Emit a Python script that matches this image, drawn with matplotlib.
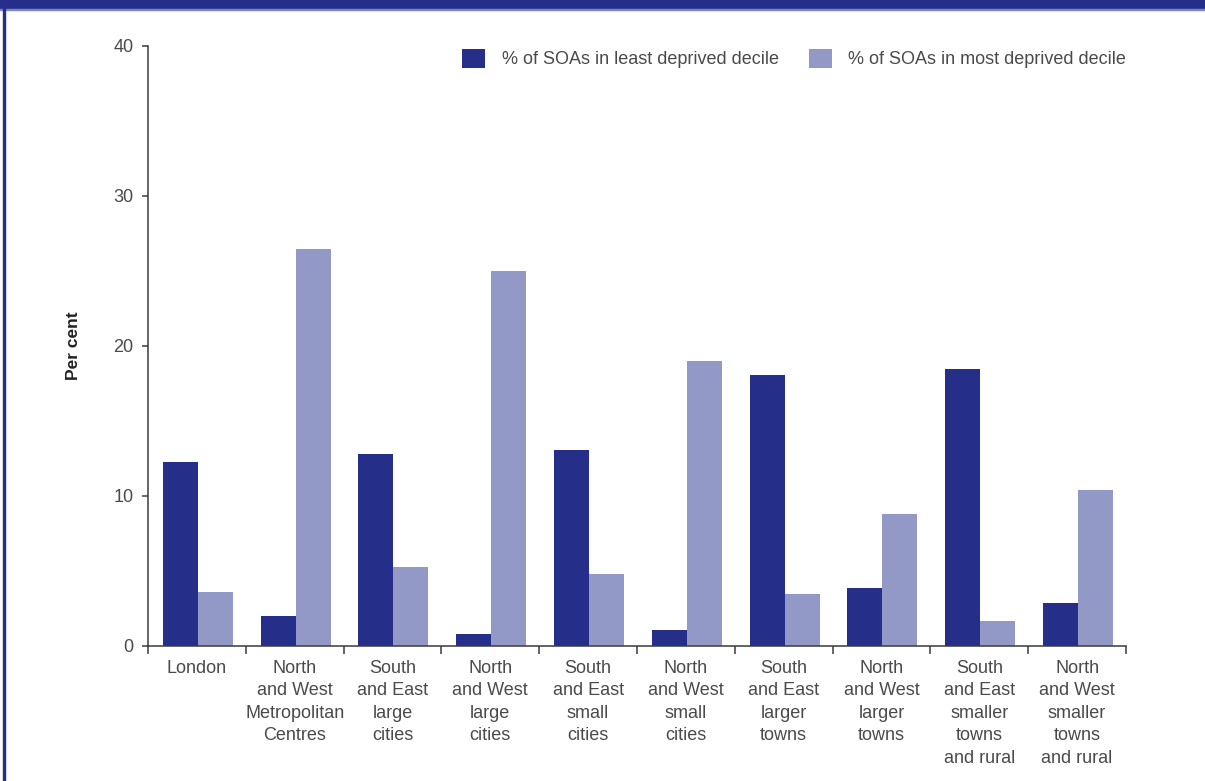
import matplotlib.pyplot as plt
import numpy as np
from matplotlib.patches import Rectangle

plt.rcParams['font.family'] = ['Liberation Sans', 'DejaVu Sans']

categories = ['London', 'North\nand West\nMetropolitan\nCentres', 'South\nand East\nlarge\ncities',
              'North\nand West\nlarge\ncities', 'South\nand East\nsmall\ncities', 'North\nand West\nsmall\ncities',
              'South\nand East\nlarger\ntowns', 'North\nand West\nlarger\ntowns',
              'South\nand East\nsmaller\ntowns\nand rural', 'North\nand West\nsmaller\ntowns\nand rural']
least_deprived = [12.3, 2.0, 12.8, 0.8, 13.1, 1.1, 18.1, 3.9, 18.5, 2.9]
most_deprived = [3.6, 26.5, 5.3, 25.0, 4.8, 19.0, 3.5, 8.8, 1.7, 10.4]
series_names = ['% of SOAs in least deprived decile', '% of SOAs in most deprived decile']

dark = '#252f8a'
light = '#9399c6'
text_col = '#4a4a4a'
axis_col = '#3a3a3a'

fig = plt.figure(figsize=(12.05, 7.81), dpi=100)
ax = fig.add_axes([148/1205, 1 - 646/781, (1126-148)/1205, 600/781])

# frame decoration
fig.patches.append(Rectangle((0, 1 - 9/781), 1, 9/781, transform=fig.transFigure, color=dark, zorder=0))
fig.patches.append(Rectangle((0, 1 - 10/781), 1, 1.5/781, transform=fig.transFigure, color='#7f86c0', zorder=0))
fig.patches.append(Rectangle((3/1205, 0), 1.5/1205, 1, transform=fig.transFigure, color=dark, zorder=0))

x = np.arange(len(categories)) + 0.5
w = 0.358
ax.bar(x - w/2 + 0.01, least_deprived, w, color=dark, label=series_names[0])
ax.bar(x + w/2 + 0.01, most_deprived, w, color=light, label=series_names[1])

ax.set_xlim(0, len(categories))
ax.set_ylim(0, 40)
ax.set_yticks([0, 10, 20, 30, 40])
ax.set_xticks(x)
ax.set_xticklabels(categories, fontsize=13, color=text_col, linespacing=1.42)
ax.set_xticks(np.arange(len(categories) + 1), minor=True)
ax.tick_params(axis='x', which='major', length=0, pad=10)
ax.tick_params(axis='x', which='minor', length=6, width=1.1, color=axis_col)
ax.tick_params(axis='y', length=4.5, width=1.1, color=axis_col, labelsize=13, labelcolor=text_col, pad=6)

for s in ['top', 'right']:
    ax.spines[s].set_visible(False)
for s in ['left', 'bottom']:
    ax.spines[s].set_color(axis_col)
    ax.spines[s].set_linewidth(1.1)

ax.set_ylabel('Per cent', fontsize=12.5, fontweight='bold', color='#222222', labelpad=23)

leg = ax.legend(loc='center right', bbox_to_anchor=(1.0, 0.979), ncol=2, frameon=False,
                fontsize=13, handlelength=1.28, handleheight=1.28, handletextpad=0.9,
                columnspacing=1.67, borderaxespad=0, borderpad=0)
for t in leg.get_texts():
    t.set_color(text_col)

fig.savefig('out.png', dpi=100)
